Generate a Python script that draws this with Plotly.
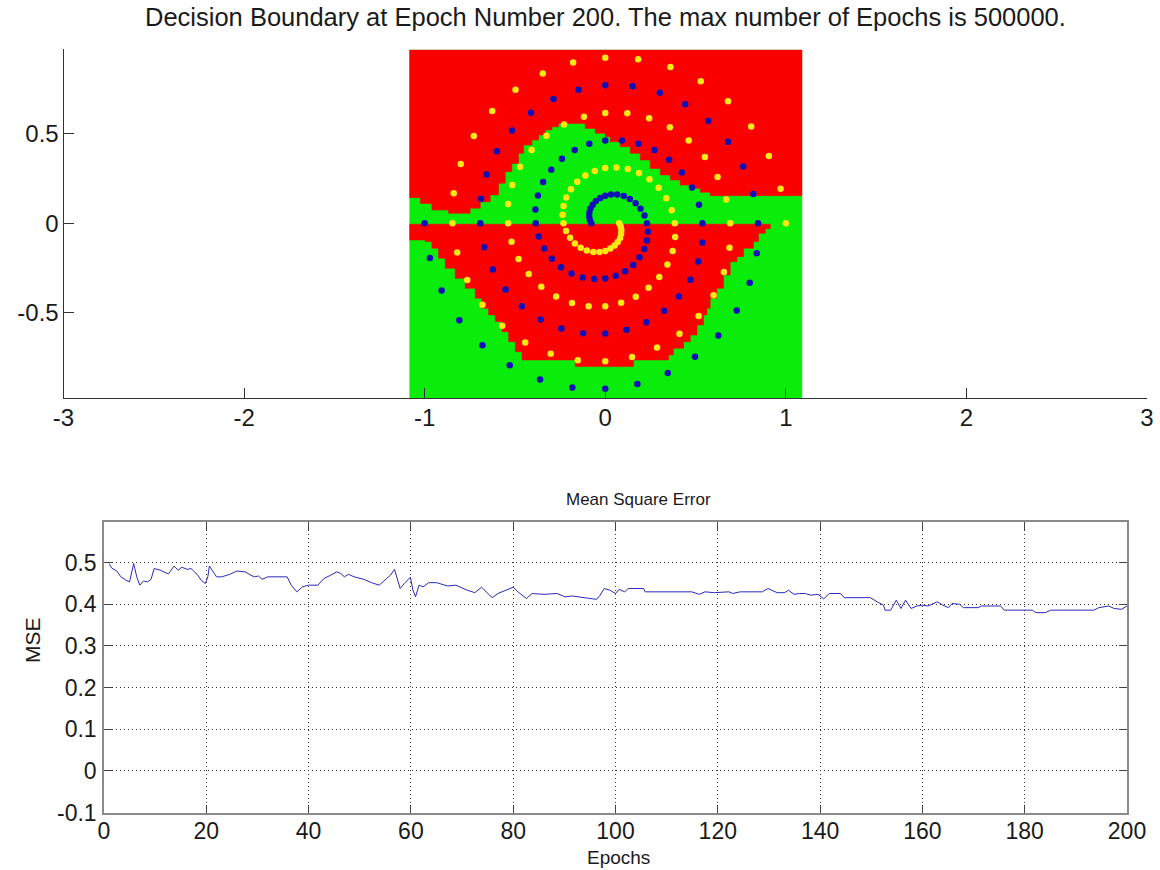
import plotly.graph_objects as go

# ---------------- data: two-spiral training points ----------------
YELLOW_X = [1.000, 0.971, 0.906, 0.808, 0.680, 0.529, 0.361, 0.182, 0.000, -0.178,
            -0.346, -0.497, -0.626, -0.728, -0.800, -0.839, -0.846, -0.820, -0.764, -0.680,
            -0.571, -0.443, -0.302, -0.152, 0.000, 0.148, 0.287, 0.411, 0.517, 0.600,
            0.657, 0.688, 0.692, 0.670, 0.622, 0.552, 0.462, 0.358, 0.243, 0.122,
            0.000, -0.118, -0.228, -0.326, -0.408, -0.472, -0.515, -0.538, -0.538, -0.519,
            -0.480, -0.424, -0.354, -0.272, -0.184, -0.092, 0.000, 0.088, 0.169, 0.240,
            0.299, 0.344, 0.373, 0.387, 0.385, 0.368, 0.338, 0.296, 0.245, 0.187,
            0.125, 0.062, 0.000, -0.058, -0.110, -0.155, -0.190, -0.216, -0.231, -0.236,
            -0.231, -0.217, -0.195, -0.168, -0.136, -0.102, -0.066, -0.032, 0.000, 0.028,
            0.052, 0.069, 0.082, 0.088, 0.089, 0.085, 0.077]
YELLOW_Y = [0.000, 0.193, 0.375, 0.540, 0.680, 0.792, 0.871, 0.915, 0.923, 0.896,
            0.835, 0.744, 0.626, 0.486, 0.331, 0.167, 0.000, -0.163, -0.316, -0.454,
            -0.571, -0.664, -0.728, -0.764, -0.769, -0.745, -0.693, -0.616, -0.517, -0.401,
            -0.272, -0.137, 0.000, 0.133, 0.258, 0.369, 0.462, 0.536, 0.586, 0.613,
            0.615, 0.594, 0.551, 0.488, 0.408, 0.315, 0.213, 0.107, 0.000, -0.103,
            -0.199, -0.283, -0.354, -0.408, -0.444, -0.462, -0.462, -0.443, -0.409, -0.360,
            -0.299, -0.230, -0.155, -0.077, 0.000, 0.073, 0.140, 0.198, 0.245, 0.280,
            0.302, 0.311, 0.308, 0.292, 0.267, 0.232, 0.190, 0.144, 0.096, 0.047,
            0.000, -0.043, -0.081, -0.112, -0.136, -0.152, -0.160, -0.160, -0.154, -0.141,
            -0.124, -0.104, -0.082, -0.059, -0.037, -0.017, 0.000]
BLUE_X = [-1.000, -0.971, -0.906, -0.808, -0.680, -0.529, -0.361, -0.182, 0.000, 0.178,
          0.346, 0.497, 0.626, 0.728, 0.800, 0.839, 0.846, 0.820, 0.764, 0.680,
          0.571, 0.443, 0.302, 0.152, 0.000, -0.148, -0.287, -0.411, -0.517, -0.600,
          -0.657, -0.688, -0.692, -0.670, -0.622, -0.552, -0.462, -0.358, -0.243, -0.122,
          0.000, 0.118, 0.228, 0.326, 0.408, 0.472, 0.515, 0.538, 0.538, 0.519,
          0.480, 0.424, 0.354, 0.272, 0.184, 0.092, 0.000, -0.088, -0.169, -0.240,
          -0.299, -0.344, -0.373, -0.387, -0.385, -0.368, -0.338, -0.296, -0.245, -0.187,
          -0.125, -0.062, 0.000, 0.058, 0.110, 0.155, 0.190, 0.216, 0.231, 0.236,
          0.231, 0.217, 0.195, 0.168, 0.136, 0.102, 0.066, 0.032, 0.000, -0.028,
          -0.052, -0.069, -0.082, -0.088, -0.089, -0.085, -0.077]
BLUE_Y = [0.000, -0.193, -0.375, -0.540, -0.680, -0.792, -0.871, -0.915, -0.923, -0.896,
          -0.835, -0.744, -0.626, -0.486, -0.331, -0.167, 0.000, 0.163, 0.316, 0.454,
          0.571, 0.664, 0.728, 0.764, 0.769, 0.745, 0.693, 0.616, 0.517, 0.401,
          0.272, 0.137, 0.000, -0.133, -0.258, -0.369, -0.462, -0.536, -0.586, -0.613,
          -0.615, -0.594, -0.551, -0.488, -0.408, -0.315, -0.213, -0.107, 0.000, 0.103,
          0.199, 0.283, 0.354, 0.408, 0.444, 0.462, 0.462, 0.443, 0.409, 0.360,
          0.299, 0.230, 0.155, 0.077, 0.000, -0.073, -0.140, -0.198, -0.245, -0.280,
          -0.302, -0.311, -0.308, -0.292, -0.267, -0.232, -0.190, -0.144, -0.096, -0.047,
          0.000, 0.043, 0.081, 0.112, 0.136, 0.152, 0.160, 0.160, 0.154, 0.141,
          0.124, 0.104, 0.082, 0.059, 0.037, 0.017, 0.000]

# ---------------- decision regions ----------------
GRID_X_RANGE = [-1.083, 1.089]
GRID_Y_RANGE = [-1.0, 0.966]
# upper red region: column start x and lower edge of the red area
UPPER_COL_X = [-1.083, -1.024, -0.960, -0.868, -0.748, -0.692, -0.637, -0.591, -0.554, -0.517,
               -0.480, -0.452, -0.406, -0.369, -0.332, -0.295, -0.258, -0.111, -0.055, 0.000,
               0.028, 0.083, 0.139, 0.194, 0.249, 0.305, 0.360, 0.415, 0.471, 0.526, 0.581]
UPPER_COL_Y = [0.143, 0.111, 0.074, 0.056, 0.084, 0.120, 0.158, 0.223, 0.288, 0.334,
               0.390, 0.436, 0.464, 0.492, 0.520, 0.538, 0.557, 0.529, 0.502, 0.483,
               0.455, 0.427, 0.390, 0.353, 0.306, 0.269, 0.241, 0.213, 0.195, 0.173, 0.154]
UPPER_END_X = 1.089
# lower red region: top edge and column-wise bottom edge
LOWER_TOP_Y = -0.005
LOWER_COL_X = [-1.083, -0.997, -0.960, -0.923, -0.886, -0.831, -0.775, -0.720, -0.683, -0.646,
               -0.609, -0.572, -0.535, -0.498, -0.461, -0.166, 0.157, 0.351, 0.378, 0.434,
               0.471, 0.508, 0.544, 0.563, 0.581, 0.618, 0.655, 0.692, 0.729, 0.766,
               0.821, 0.849, 0.886]
LOWER_COL_Y = [-0.093, -0.102, -0.139, -0.195, -0.251, -0.307, -0.362, -0.418, -0.474, -0.511,
               -0.548, -0.604, -0.660, -0.716, -0.762, -0.799, -0.762, -0.734, -0.697, -0.660,
               -0.623, -0.567, -0.511, -0.474, -0.418, -0.362, -0.288, -0.214, -0.186, -0.139,
               -0.102, -0.056, -0.030]
LOWER_END_X = 0.914

# ---------------- MSE curve ----------------
MSE_EPOCH = [1, 1.5, 2.5, 3.3, 4.3, 5.0, 5.8, 6.4, 7.0, 7.7, 8.5, 9.2, 9.8, 11, 12.6, 13.7, 14.5,
             15.2, 16.3, 17, 18.2, 19, 19.8, 20.3, 20.6, 21.2, 22, 23, 24.6, 26, 27.6, 28.7,
             29.4, 30.2, 30.9, 32, 35.8, 36.6, 37.7, 38.8, 40, 41.8, 43, 44, 45.5, 46.3, 47,
             47.8, 48.9, 50.8, 52.3, 53.8, 54.5, 56, 56.8, 57.5, 57.9, 58.7, 59.4, 59.9, 60.4,
             60.9, 61.6, 62.4, 63.5, 65, 67.2, 68.8, 71, 72.5, 73.8, 74.7, 75.9, 77, 78.5, 80,
             81.1, 82.6, 83.7, 86, 88.6, 90.1, 91.6, 93.5, 95, 96.3, 97, 97.8, 98.9, 100, 100.7,
             101.8, 102.5, 105.5, 105.8, 114.9, 116.4, 117.5, 119.3, 122.2, 122.9, 124.4, 128.7,
             129.8, 131.6, 133.1, 133.8, 134.9, 136, 137.1, 138.2, 139.6, 140.7, 141.8, 144,
             144.7, 149.8, 151.3, 152.4, 152.7, 153.8, 154.9, 155.8, 156.7, 157.8, 158.9, 160,
             161.1, 162.9, 164, 165.1, 165.8, 167.3, 168, 170.9, 171.6, 175.3, 176, 181.5,
             182.2, 184, 185.1, 193.5, 194.5, 196.4, 197.5, 198.9, 200]
MSE_VALUE = [0.498, 0.487, 0.480, 0.466, 0.458, 0.454, 0.498, 0.466, 0.446, 0.456, 0.454, 0.460,
             0.486, 0.482, 0.473, 0.492, 0.482, 0.489, 0.484, 0.486, 0.472, 0.458, 0.450, 0.466,
             0.492, 0.482, 0.466, 0.466, 0.472, 0.480, 0.478, 0.470, 0.466, 0.468, 0.460, 0.466,
             0.466, 0.446, 0.430, 0.442, 0.446, 0.446, 0.462, 0.468, 0.478, 0.474, 0.466, 0.472,
             0.466, 0.460, 0.452, 0.446, 0.454, 0.470, 0.484, 0.458, 0.438, 0.450, 0.458, 0.465,
             0.434, 0.418, 0.446, 0.442, 0.452, 0.452, 0.444, 0.446, 0.434, 0.428, 0.441, 0.430,
             0.416, 0.426, 0.433, 0.441, 0.428, 0.414, 0.426, 0.424, 0.426, 0.418, 0.420, 0.416,
             0.414, 0.412, 0.422, 0.438, 0.434, 0.426, 0.436, 0.430, 0.438, 0.438, 0.430, 0.430,
             0.424, 0.430, 0.428, 0.430, 0.426, 0.430, 0.430, 0.438, 0.428, 0.428, 0.434, 0.424,
             0.426, 0.426, 0.422, 0.424, 0.413, 0.426, 0.426, 0.416, 0.416, 0.405, 0.398, 0.386,
             0.386, 0.410, 0.390, 0.410, 0.390, 0.396, 0.398, 0.396, 0.406, 0.398, 0.392, 0.402,
             0.400, 0.392, 0.392, 0.396, 0.396, 0.386, 0.386, 0.380, 0.380, 0.386, 0.386, 0.392,
             0.396, 0.390, 0.388, 0.396]

TOP_X_TICKS = [-3, -2, -1, 0, 1, 2, 3]
TOP_Y_TICKS = [-0.5, 0, 0.5]
BOT_X_TICKS = [0, 20, 40, 60, 80, 100, 120, 140, 160, 180, 200]
BOT_Y_TICKS = [-0.1, 0, 0.1, 0.2, 0.3, 0.4, 0.5]

TITLE_TOP = "Decision Boundary at Epoch Number 200. The max number of Epochs is 500000."
TITLE_BOT = "Mean Square Error"

RED = "#fa0000"
GREEN = "#0aec0a"
BLUE = "#1010b8"
YELLOW = "#ffe814"
FONT = "Liberation Sans, Arial, Helvetica, sans-serif"
W, H = 1160, 870


def step_outline(col_x, col_y, end_x):
    xs, ys = [], []
    for i, (x0, y0) in enumerate(zip(col_x, col_y)):
        x1 = col_x[i + 1] if i + 1 < len(col_x) else end_x
        xs += [x0, x1]
        ys += [y0, y0]
    return xs, ys


fig = go.Figure()

# green background of the grid
gx0, gx1 = GRID_X_RANGE
gy0, gy1 = GRID_Y_RANGE
fig.add_trace(go.Scatter(x=[gx0, gx1, gx1, gx0, gx0], y=[gy0, gy0, gy1, gy1, gy0],
                         fill="toself", fillcolor=GREEN, mode="lines",
                         line=dict(color=GREEN, width=0.5), hoverinfo="skip",
                         xaxis="x", yaxis="y"))
# upper red region
ux, uy = step_outline(UPPER_COL_X, UPPER_COL_Y, UPPER_END_X)
ux += [UPPER_END_X, UPPER_COL_X[0], UPPER_COL_X[0]]
uy += [gy1, gy1, UPPER_COL_Y[0]]
fig.add_trace(go.Scatter(x=ux, y=uy, fill="toself", fillcolor=RED, mode="lines",
                         line=dict(color=RED, width=0.5), hoverinfo="skip",
                         xaxis="x", yaxis="y"))
# lower red region
lx, ly = step_outline(LOWER_COL_X, LOWER_COL_Y, LOWER_END_X)
lx += [LOWER_END_X, LOWER_COL_X[0], LOWER_COL_X[0]]
ly += [LOWER_TOP_Y, LOWER_TOP_Y, LOWER_COL_Y[0]]
fig.add_trace(go.Scatter(x=lx, y=ly, fill="toself", fillcolor=RED, mode="lines",
                         line=dict(color=RED, width=0.5), hoverinfo="skip",
                         xaxis="x", yaxis="y"))
# spiral points
fig.add_trace(go.Scatter(x=BLUE_X, y=BLUE_Y, mode="markers",
                         marker=dict(color=BLUE, size=6.5, line=dict(width=0)),
                         xaxis="x", yaxis="y"))
fig.add_trace(go.Scatter(x=YELLOW_X, y=YELLOW_Y, mode="markers",
                         marker=dict(color=YELLOW, size=6.5, line=dict(width=0)),
                         xaxis="x", yaxis="y"))

# MSE curve
fig.add_trace(go.Scatter(x=MSE_EPOCH, y=MSE_VALUE, mode="lines",
                         line=dict(color="#2a2ab8", width=1), xaxis="x2", yaxis="y2"))


def px_x(p):
    return p / W


def px_y(p):
    return 1 - p / H


fig.update_layout(
    width=W, height=H, margin=dict(l=0, r=0, t=0, b=0, autoexpand=False),
    paper_bgcolor="white", plot_bgcolor="white", showlegend=False,
    font=dict(family=FONT, color="#1a1a1a"),
    xaxis=dict(domain=[px_x(63.5), px_x(1147)], range=[-3, 3], anchor="y", automargin=False,
               tickvals=TOP_X_TICKS, ticktext=[str(v) for v in TOP_X_TICKS],
               ticks="inside", ticklen=10, tickcolor="#333", showline=True,
               linecolor="#333", linewidth=1, showgrid=False, zeroline=False,
               tickfont=dict(size=24, family=FONT, color="#1a1a1a"),
               ticklabelstandoff=-2),
    yaxis=dict(domain=[px_y(398), px_y(49.3)], range=[-0.974, 0.970], anchor="x", automargin=False,
               tickvals=TOP_Y_TICKS, ticktext=["-0.5", "0", "0.5"],
               ticks="inside", ticklen=10, tickcolor="#333", showline=True,
               linecolor="#333", linewidth=1, showgrid=False, zeroline=False,
               tickfont=dict(size=24, family=FONT, color="#1a1a1a"),
               ticklabelstandoff=-1),
    xaxis2=dict(domain=[px_x(104), px_x(1127)], range=[0, 200], anchor="y2", automargin=False,
                tickvals=BOT_X_TICKS, ticktext=[str(v) for v in BOT_X_TICKS],
                ticks="inside", ticklen=8, tickcolor="#444", showline=True,
                linecolor="#8a8a8a", linewidth=1.5, mirror="ticks",
                showgrid=True, gridcolor="#333", gridwidth=1, griddash="1px,3px",
                zeroline=False, tickfont=dict(size=23, family=FONT, color="#1a1a1a"),
                ticklabelstandoff=-3),
    yaxis2=dict(domain=[px_y(812.5), px_y(522.3)], range=[-0.1, 0.597], anchor="x2", automargin=False,
                tickvals=BOT_Y_TICKS, ticktext=["-0.1", "0", "0.1", "0.2", "0.3", "0.4", "0.5"],
                ticks="inside", ticklen=8, tickcolor="#444", showline=True,
                linecolor="#8a8a8a", linewidth=1.5, mirror="ticks",
                showgrid=True, gridcolor="#333", gridwidth=1, griddash="1px,3px",
                zeroline=False, tickfont=dict(size=23, family=FONT, color="#1a1a1a"),
                ticklabelstandoff=1),
    annotations=[
        dict(text=TITLE_TOP, x=px_x(605), y=px_y(17), xref="paper", yref="paper",
             xanchor="center", yanchor="middle", showarrow=False,
             font=dict(size=25.5, family=FONT, color="#1a1a1a")),
        dict(text=TITLE_BOT, x=px_x(638), y=px_y(500), xref="paper", yref="paper",
             xanchor="center", yanchor="middle", showarrow=False,
             font=dict(size=17, family=FONT, color="#1a1a1a")),
        dict(text="MSE", x=px_x(32), y=px_y(640), xref="paper", yref="paper",
             xanchor="center", yanchor="middle", showarrow=False, textangle=-90,
             font=dict(size=21, family=FONT, color="#1a1a1a")),
        dict(text="Epochs", x=px_x(618), y=px_y(857), xref="paper", yref="paper",
             xanchor="center", yanchor="middle", showarrow=False,
             font=dict(size=19, family=FONT, color="#1a1a1a")),
    ],
)

fig.write_html("out.html")
